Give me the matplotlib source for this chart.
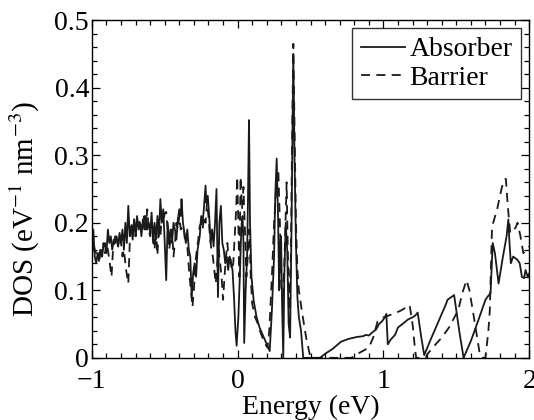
import matplotlib
matplotlib.use("Agg")
import matplotlib.pyplot as plt
from matplotlib.ticker import MultipleLocator, FixedLocator, FixedFormatter

plt.rcParams['font.family'] = ['Liberation Serif', 'DejaVu Serif']
plt.rcParams['mathtext.fontset'] = 'stix'

absorber_E = [-1.0, -0.99, -0.98, -0.97, -0.96, -0.95, -0.94, -0.93, -0.92, -0.91, -0.90, -0.89, -0.88, -0.87,
              -0.86, -0.85, -0.84, -0.83, -0.82, -0.81, -0.80, -0.79, -0.78, -0.77, -0.76, -0.75, -0.74, -0.73,
              -0.72, -0.71, -0.70, -0.69, -0.68, -0.67, -0.66, -0.65, -0.64, -0.63, -0.62, -0.61, -0.60, -0.59,
              -0.58, -0.57, -0.56, -0.55, -0.54, -0.53, -0.52, -0.51, -0.50, -0.49, -0.48, -0.47, -0.46, -0.45,
              -0.44, -0.43, -0.42, -0.41, -0.40, -0.39, -0.385, -0.375, -0.365, -0.355, -0.345, -0.335, -0.325,
              -0.315, -0.305, -0.295, -0.285, -0.275, -0.26, -0.25, -0.24, -0.23, -0.22, -0.215, -0.205, -0.195,
              -0.185, -0.175, -0.165, -0.155, -0.145, -0.135, -0.125, -0.115, -0.105, -0.095, -0.085, -0.075,
              -0.065, -0.055, -0.045, -0.035, -0.025, -0.015, -0.007, 0.005, 0.015, 0.022, 0.028, 0.034, 0.04,
              0.045, 0.055, 0.065, 0.072, 0.078, 0.085, 0.095, 0.11, 0.13, 0.15, 0.17, 0.19, 0.21, 0.22, 0.235,
              0.25, 0.258, 0.268, 0.278, 0.285, 0.292, 0.298, 0.305, 0.313, 0.32, 0.33, 0.34, 0.35, 0.36, 0.37,
              0.382, 0.39, 0.40, 0.41, 0.42, 0.435, 0.45, 0.565, 0.60, 0.65, 0.71, 0.76, 0.82, 0.86, 0.88, 0.90,
              0.92, 0.95, 0.97, 0.99, 1.01, 1.02, 1.03, 1.05, 1.08, 1.10, 1.13, 1.17, 1.20, 1.22, 1.235, 1.26,
              1.28, 1.32, 1.36, 1.40, 1.43, 1.44, 1.485, 1.52, 1.55, 1.60, 1.65, 1.70, 1.72, 1.735, 1.75, 1.765,
              1.79, 1.82, 1.845, 1.857, 1.865, 1.874, 1.89, 1.92, 1.935, 1.95, 1.965, 1.975, 1.99, 2.0]
absorber_dos = [0.16, 0.19, 0.15, 0.14, 0.155, 0.145, 0.16, 0.15, 0.165, 0.17, 0.155, 0.19, 0.17, 0.18,
                0.16, 0.175, 0.17, 0.18, 0.165, 0.185, 0.17, 0.19, 0.16, 0.20, 0.17, 0.225, 0.18, 0.195,
                0.175, 0.205, 0.18, 0.21, 0.19, 0.20, 0.18, 0.205, 0.19, 0.21, 0.19, 0.20, 0.185, 0.215,
                0.17, 0.20, 0.175, 0.21, 0.18, 0.235, 0.20, 0.22, 0.17, 0.115, 0.20, 0.17, 0.19, 0.17,
                0.20, 0.19, 0.175, 0.205, 0.22, 0.21, 0.235, 0.20, 0.185, 0.17, 0.19, 0.16, 0.15,
                0.09, 0.125, 0.14, 0.12, 0.16, 0.18, 0.21, 0.20, 0.225, 0.255, 0.23, 0.24, 0.21,
                0.17, 0.19, 0.165, 0.20, 0.25, 0.09, 0.20, 0.225, 0.17, 0.16, 0.14, 0.15,
                0.13, 0.15, 0.14, 0.13, 0.09, 0.04, 0.018, 0.06, 0.12, 0.17, 0.20, 0.21, 0.17,
                0.022, 0.10, 0.15, 0.25, 0.352, 0.20, 0.12, 0.085, 0.06, 0.045, 0.035, 0.025, 0.015, 0.01, 0.07,
                0.15, 0.24, 0.295, 0.20, 0.10, 0.17, 0.18, 0.08, 0.0, 0.12, 0.20, 0.16, 0.05, 0.03, 0.20,
                0.45, 0.30, 0.17, 0.09, 0.06, 0.04, 0.0, 0.0, 0.006, 0.013, 0.024, 0.028, 0.031, 0.032, 0.034, 0.033,
                0.037, 0.042, 0.05, 0.054, 0.06, 0.065, 0.02, 0.027, 0.034, 0.045, 0.05, 0.057, 0.06, 0.063, 0.067, 0.03,
                0.004, 0.025, 0.045, 0.065, 0.08, 0.086, 0.093, 0.04, 0.0, 0.025, 0.055, 0.086, 0.092, 0.096, 0.17, 0.155,
                0.11, 0.15, 0.18, 0.205, 0.17, 0.14, 0.15, 0.145, 0.14, 0.12, 0.118, 0.13, 0.12, 0.125]

barrier_E = [-1.0, -0.99, -0.98, -0.97, -0.96, -0.95, -0.94, -0.93, -0.92, -0.91, -0.90, -0.89, -0.88, -0.865,
             -0.855, -0.84, -0.83, -0.82, -0.81, -0.80, -0.79, -0.78, -0.765, -0.75, -0.74, -0.73, -0.72, -0.71,
             -0.70, -0.69, -0.68, -0.67, -0.66, -0.65, -0.64, -0.63, -0.62, -0.61, -0.60, -0.59, -0.58, -0.57,
             -0.56, -0.55, -0.54, -0.53, -0.52, -0.51, -0.50, -0.49, -0.48, -0.47, -0.46, -0.45, -0.44, -0.43,
             -0.42, -0.41, -0.40, -0.39, -0.37, -0.36, -0.35, -0.34, -0.33, -0.32, -0.31, -0.30, -0.29, -0.28,
             -0.27, -0.26, -0.25, -0.24, -0.23, -0.22, -0.21, -0.20, -0.19, -0.18, -0.17, -0.16, -0.15, -0.14,
             -0.13, -0.12, -0.11, -0.10, -0.09, -0.08, -0.07, -0.06, -0.05, -0.04, -0.03, -0.02, -0.01, -0.003,
             0.005, 0.012, 0.02, 0.03, 0.04, 0.05, 0.06, 0.07, 0.08, 0.09, 0.10, 0.12, 0.14, 0.153, 0.17, 0.19,
             0.205, 0.217, 0.235, 0.25, 0.265, 0.279, 0.29, 0.30, 0.31, 0.322, 0.336, 0.345, 0.355, 0.365, 0.375,
             0.382, 0.39, 0.40, 0.41, 0.42, 0.44, 0.47, 0.50, 0.78, 0.84, 0.90, 0.93, 0.96, 1.00, 1.04, 1.08,
             1.12, 1.15, 1.18, 1.20, 1.217, 1.225, 1.29, 1.30, 1.35, 1.40, 1.45, 1.514, 1.54, 1.57, 1.59, 1.62,
             1.66, 1.675, 1.70, 1.72, 1.73, 1.745, 1.78, 1.81, 1.825, 1.84, 1.855, 1.87, 1.885, 1.905, 1.92,
             1.94, 1.96, 1.98, 2.0]
barrier_dos = [0.15, 0.17, 0.16, 0.155, 0.16, 0.14, 0.165, 0.15, 0.17, 0.155, 0.17, 0.16, 0.145, 0.12,
               0.16, 0.18, 0.175, 0.165, 0.18, 0.17, 0.15, 0.16, 0.13, 0.11, 0.17, 0.20, 0.19, 0.205,
               0.18, 0.20, 0.195, 0.205, 0.19, 0.20, 0.21, 0.19, 0.22, 0.19, 0.18, 0.20, 0.19, 0.16,
               0.19, 0.152, 0.20, 0.18, 0.21, 0.20, 0.215, 0.216, 0.19, 0.16, 0.175, 0.19, 0.15, 0.17,
               0.20, 0.19, 0.21, 0.19, 0.195, 0.17, 0.18, 0.15, 0.12, 0.10, 0.075, 0.10, 0.14, 0.16,
               0.175, 0.195, 0.20, 0.19, 0.21, 0.20, 0.23, 0.21, 0.18, 0.16, 0.15, 0.13, 0.11, 0.14,
               0.16, 0.14, 0.12, 0.086, 0.12, 0.15, 0.17, 0.14, 0.15, 0.13, 0.14, 0.18, 0.22, 0.268,
               0.20, 0.12, 0.268, 0.22, 0.253, 0.19, 0.12, 0.15, 0.19, 0.12, 0.08, 0.06, 0.05, 0.04, 0.03, 0.02,
               0.015, 0.04, 0.12, 0.20, 0.25, 0.278, 0.20, 0.10, 0.08, 0.15, 0.26, 0.15, 0.07, 0.15, 0.35,
               0.465, 0.35, 0.20, 0.13, 0.10, 0.07, 0.03, 0.0, 0.0, 0.008, 0.015, 0.03, 0.054, 0.06, 0.063, 0.066,
               0.07, 0.074, 0.078, 0.05, 0.012, 0.0, 0.0, 0.005, 0.018, 0.03, 0.045, 0.071, 0.095, 0.115, 0.10, 0.061,
               0.007, 0.0, 0.0, 0.04, 0.071, 0.194, 0.22, 0.25, 0.263, 0.265, 0.22, 0.185, 0.19, 0.192, 0.20,
               0.18, 0.155, 0.16, 0.165]

x_ticks = [-1, 0, 1, 2]
x_labels = ['\u22121', '0', '1', '2']
y_ticks = [0, 0.1, 0.2, 0.3, 0.4, 0.5]
y_labels = ['0', '0.1', '0.2', '0.3', '0.4', '0.5']

fig = plt.figure(figsize=(5.34, 4.2), dpi=100)
ax = fig.add_axes([0.172, 0.148, 0.819, 0.804])

ax.plot(absorber_E, absorber_dos, color='#1a1a1a', lw=1.3, label='Absorber')
ax.plot(barrier_E, barrier_dos, color='#1a1a1a', lw=1.3, ls=(0, (5, 3.5)), label='Barrier')

ax.set_xlim(-1, 2)
ax.set_ylim(0, 0.5)
ax.xaxis.set_major_locator(FixedLocator(x_ticks))
ax.xaxis.set_major_formatter(FixedFormatter(x_labels))
ax.yaxis.set_major_locator(FixedLocator(y_ticks))
ax.yaxis.set_major_formatter(FixedFormatter(y_labels))
ax.xaxis.set_minor_locator(MultipleLocator(0.1))
ax.yaxis.set_minor_locator(MultipleLocator(0.02))
ax.tick_params(which='both', direction='in', top=True, right=True, labelsize=20, width=0.9)
ax.tick_params(which='major', length=6)
ax.tick_params(axis='y', which='major', pad=2)
ax.tick_params(axis='x', which='major', pad=8)
ax.tick_params(which='minor', length=3.5)
for s in ax.spines.values():
    s.set_linewidth(1.0)

ax.set_xlabel('Energy (eV)', fontsize=20, labelpad=1)
ax.set_ylabel('DOS (eV$^{-1}$ nm$^{-3}$)', fontsize=21)
ax.yaxis.set_label_coords(-0.113, 0.44)

leg = ax.legend(loc='upper right', fontsize=20, frameon=True, fancybox=False, handlelength=1.6,
                handletextpad=0.15, borderpad=0.3, labelspacing=0.12, borderaxespad=0.3)
leg.get_frame().set_edgecolor('black')
leg.get_frame().set_linewidth(1.0)

fig.savefig('out.png', dpi=100)
